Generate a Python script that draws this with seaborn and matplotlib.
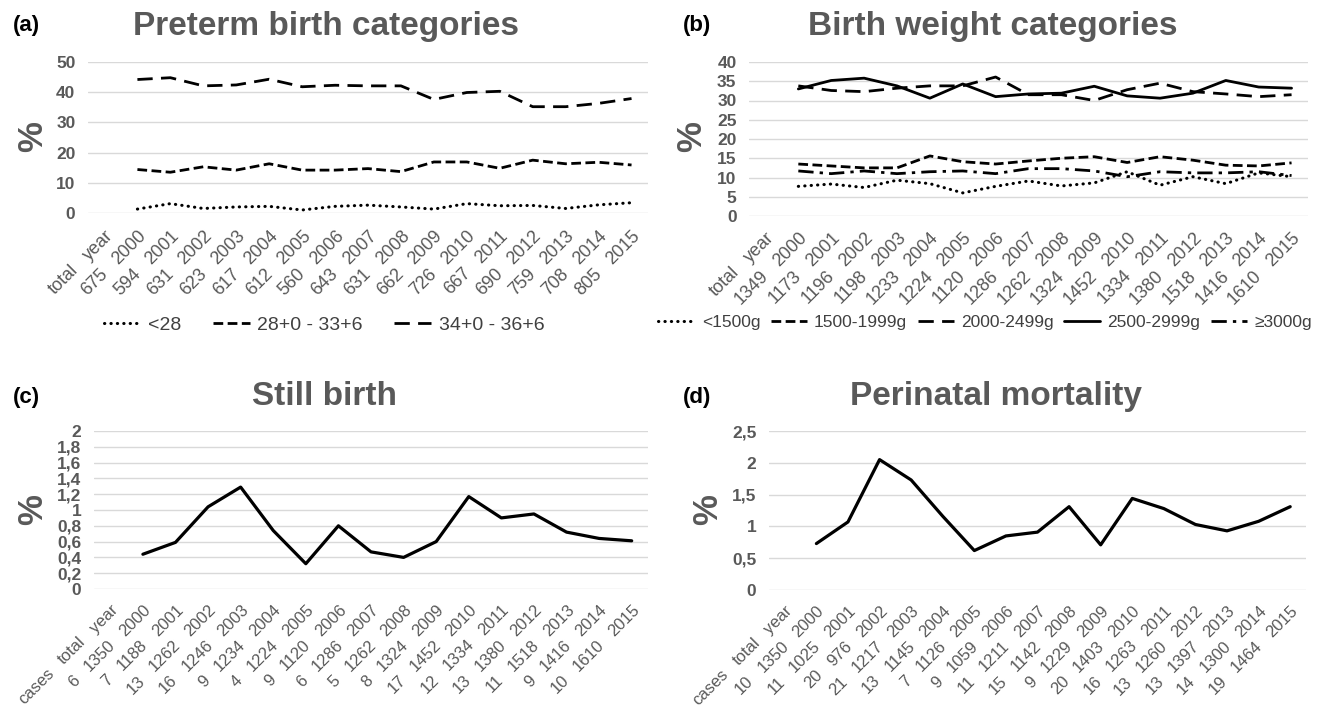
import numpy as np
import pandas as pd
import matplotlib
matplotlib.use("Agg")
import matplotlib.pyplot as plt
import seaborn as sns
from matplotlib import font_manager
from matplotlib.transforms import ScaledTranslation
from matplotlib.lines import Line2D

# ---------------- data ----------------
years = [str(y) for y in range(2000, 2016)]
row_year = ["year"] + years

preterm_totals = ["total", "675", "594", "631", "623", "617", "612", "560", "643",
                  "631", "662", "726", "667", "690", "759", "708", "805"]
preterm_lt28 = [1.3, 3.1, 1.5, 2.0, 2.2, 1.0, 2.2, 2.6, 2.0, 1.3, 3.1, 2.4, 2.5, 1.5, 2.7, 3.4]
preterm_28_33 = [14.4, 13.5, 15.3, 14.2, 16.3, 14.2, 14.2, 14.7, 13.7, 16.9, 16.9, 14.8, 17.5, 16.3, 16.8, 15.9]
preterm_34_36 = [44.2, 44.8, 42.1, 42.4, 44.3, 41.8, 42.3, 42.1, 42.1, 37.6, 39.9, 40.3, 35.2, 35.2, 36.3, 37.9]
preterm_names = ["<28", "28+0 - 33+6", "34+0 - 36+6"]

bw_totals = ["total", "1349", "1173", "1196", "1198", "1233", "1224", "1120", "1286",
             "1262", "1324", "1452", "1334", "1380", "1518", "1416", "1610"]
bw_lt1500 = [7.7, 8.3, 7.4, 9.3, 8.4, 6.0, 7.7, 9.1, 7.8, 8.6, 11.5, 8.0, 10.2, 8.4, 11.2, 10.2]
bw_1500_1999 = [13.5, 13.0, 12.5, 12.5, 15.6, 14.1, 13.5, 14.3, 15.0, 15.4, 13.9, 15.4, 14.5, 13.2, 13.0, 13.8]
bw_2000_2499 = [33.8, 32.6, 32.3, 33.2, 33.8, 33.8, 36.1, 31.5, 31.5, 30.0, 32.8, 34.5, 32.3, 31.7, 31.0, 31.5]
bw_2500_2999 = [33.0, 35.2, 35.8, 33.8, 30.6, 34.3, 31.0, 31.7, 31.9, 33.7, 31.2, 30.6, 31.9, 35.2, 33.5, 33.2]
bw_ge3000 = [11.7, 11.0, 11.7, 11.0, 11.5, 11.7, 11.0, 12.3, 12.3, 11.7, 10.2, 11.5, 11.2, 11.2, 11.5, 10.5]
bw_names = ["<1500g", "1500-1999g", "2000-2499g", "2500-2999g", "\u22653000g"]

still_totals = ["total", "1350", "1188", "1262", "1246", "1234", "1224", "1120", "1286",
                "1262", "1324", "1452", "1334", "1380", "1518", "1416", "1610"]
still_cases = ["cases", "6", "7", "13", "16", "9", "4", "9", "6", "5", "8", "17", "12",
               "13", "11", "9", "10"]
stillbirth = [0.44, 0.59, 1.04, 1.29, 0.74, 0.32, 0.80, 0.47, 0.40, 0.60, 1.17, 0.90, 0.95, 0.72, 0.64, 0.61]

peri_totals = ["total", "1350", "1025", "976", "1217", "1145", "1126", "1059", "1211",
               "1142", "1229", "1403", "1263", "1260", "1397", "1300", "1464"]
peri_cases = ["cases", "10", "11", "20", "21", "13", "7", "9", "11", "15", "9", "20", "16",
              "13", "13", "14", "19"]
perinatal = [0.73, 1.07, 2.05, 1.73, 1.16, 0.62, 0.85, 0.91, 1.31, 0.71, 1.44, 1.28, 1.03, 0.93, 1.08, 1.31]

yt_a = [0, 10, 20, 30, 40, 50]
yl_a = ["0", "10", "20", "30", "40", "50"]
yt_b = [0, 5, 10, 15, 20, 25, 30, 35, 40]
yl_b = ["0", "5", "10", "15", "20", "25", "30", "35", "40"]
yt_c = [0, 0.2, 0.4, 0.6, 0.8, 1.0, 1.2, 1.4, 1.6, 1.8, 2.0]
yl_c = ["0", "0,2", "0,4", "0,6", "0,8", "1", "1,2", "1,4", "1,6", "1,8", "2"]
yt_d = [0, 0.5, 1.0, 1.5, 2.0, 2.5]
yl_d = ["0", "0,5", "1", "1,5", "2", "2,5"]

# ---------------- style ----------------
sns.set_theme(style="white")
plt.rcParams["font.family"] = ["Liberation Sans", "DejaVu Sans"]

def has_font(name):
    try:
        font_manager.findfont(name, fallback_to_default=False)
        return True
    except Exception:
        return False

NARROW = "Liberation Sans Narrow" if has_font("Liberation Sans Narrow") else "Liberation Sans"

GRAY = "#595959"
DGRAY = "#404040"
W, H = 1320, 712
fig = plt.figure(figsize=(W / 100, H / 100), dpi=100)
renderer = fig.canvas.get_renderer()

LW = 2.0
DOT = dict(linestyle=(0, (0.1, 2.0)), dash_capstyle="round", lw=2.2)
SDASH = dict(linestyle=(0, (3.5, 1.6)), dash_capstyle="butt", lw=LW)
LDASH = dict(linestyle=(0, (5.5, 3.0)), dash_capstyle="butt", lw=LW)
SOLID = dict(linestyle="-", lw=LW)
DASHDOT = dict(linestyle=(0, (5.5, 2.2, 1.2, 2.2)), dash_capstyle="butt", lw=LW)


def text_width(s, fs):
    t = fig.text(0, 0, s, fontsize=fs)
    w = t.get_window_extent(renderer).width
    t.remove()
    return w


def px_axes(x0, x1, ytop, ybot):
    return fig.add_axes([x0 / W, 1 - ybot / H, (x1 - x0) / W, (ybot - ytop) / H])


def draw_panel(ax, series, styles, yticks, ylabels, ylim, rows, xfs, gap, drop):
    pos = np.arange(1, 17)
    for vals, st in zip(series, styles):
        df = pd.DataFrame({"x": pos, "y": vals})
        sns.lineplot(data=df, x="x", y="y", ax=ax, color="black", errorbar=None,
                     sort=False, legend=False, **st)
    ax.set_xlim(-0.5, 16.5)
    ax.set_ylim(*ylim)
    ax.set_xticks([])
    ax.set_yticks(yticks)
    ax.set_yticklabels(ylabels, family=NARROW, fontweight="bold", fontsize=12.5, color=GRAY)
    ax.tick_params(axis="y", length=0, pad=9)
    ax.yaxis.grid(True, color="#d9d9d9", lw=1.0)
    ax.set_axisbelow(True)
    ax.set_xlabel("")
    ax.set_ylabel("")
    for s in ax.spines.values():
        s.set_visible(False)
    # category labels: each category is one rotated line (cases  total  year)
    base = ax.get_xaxis_transform()
    r2 = np.sqrt(2.0)
    for i in range(len(rows[0])):
        d = 0.0
        for row in rows:
            s = row[i]
            tr = base + ScaledTranslation(-d / r2 / 100, (-drop - d / r2) / 100,
                                          fig.dpi_scale_trans)
            ax.text(i, 0, s, transform=tr, rotation=45, ha="right", va="top",
                    rotation_mode="anchor", fontsize=xfs, color=GRAY)
            d += text_width(s, xfs) + gap


# panel (a)
ax_a = px_axes(88, 648, 62, 213)
draw_panel(ax_a, [preterm_lt28, preterm_28_33, preterm_34_36], [DOT, SDASH, LDASH],
           yt_a, yl_a, (0, 50), [row_year, preterm_totals], 13, 14, 14)

# panel (b)
ax_b = px_axes(749, 1308, 62, 216)
draw_panel(ax_b, [bw_lt1500, bw_1500_1999, bw_2000_2499, bw_2500_2999, bw_ge3000],
           [DOT, SDASH, LDASH, SOLID, DASHDOT],
           yt_b, yl_b, (0, 40), [row_year, bw_totals], 13, 14, 13)

# panel (c)
ax_c = px_axes(94, 648, 431, 589)
draw_panel(ax_c, [stillbirth], [dict(linestyle="-", lw=2.3)], yt_c, yl_c, (0, 2),
           [row_year, still_totals, still_cases], 12, 13, 13)

# panel (d)
ax_d = px_axes(769, 1306, 431, 590)
draw_panel(ax_d, [perinatal], [dict(linestyle="-", lw=2.3)], yt_d, yl_d, (0, 2.5),
           [row_year, peri_totals, peri_cases], 12, 13, 13)

# titles, panel letters, % labels
def ftxt(x, y, s, **kw):
    fig.text(x / W, 1 - y / H, s, **kw)

ftxt(326, 35, "Preterm birth categories", ha="center", va="baseline", fontsize=24,
     fontweight="bold", color=GRAY)
ftxt(993, 35, "Birth weight categories", ha="center", va="baseline", fontsize=24,
     fontweight="bold", color=GRAY)
ftxt(325, 405, "Still birth", ha="center", va="baseline", fontsize=24,
     fontweight="bold", color=GRAY)
ftxt(996, 405, "Perinatal mortality", ha="center", va="baseline", fontsize=24,
     fontweight="bold", color=GRAY)

for (x, y, s) in [(26, 25, "(a)"), (697, 25, "(b)"), (26, 398, "(c)"), (697, 398, "(d)")]:
    ftxt(x, y, s, ha="center", va="center", fontsize=16, fontweight="bold", color="black")

for (x, y) in [(33, 137), (692, 137), (33, 510), (708, 510)]:
    ftxt(x, y, "%", ha="center", va="center", rotation=90, fontsize=25,
         fontweight="bold", color=GRAY)

# legends
def handles(styles):
    return [Line2D([], [], color="black", **st) for st in styles]

fig.legend(handles([DOT, SDASH, LDASH]), preterm_names, loc="center",
           bbox_to_anchor=(324 / W, 1 - 325 / H), ncol=3, frameon=False, fontsize=14,
           handlelength=1.9, handletextpad=0.4, columnspacing=1.6, labelcolor=DGRAY)
fig.legend(handles([DOT, SDASH, LDASH, SOLID, DASHDOT]), bw_names, loc="center",
           bbox_to_anchor=(985 / W, 1 - 322 / H), ncol=5, frameon=False, fontsize=12.5,
           handlelength=2.1, handletextpad=0.4, columnspacing=0.6, labelcolor=DGRAY)

fig.savefig("out.png", dpi=100)
